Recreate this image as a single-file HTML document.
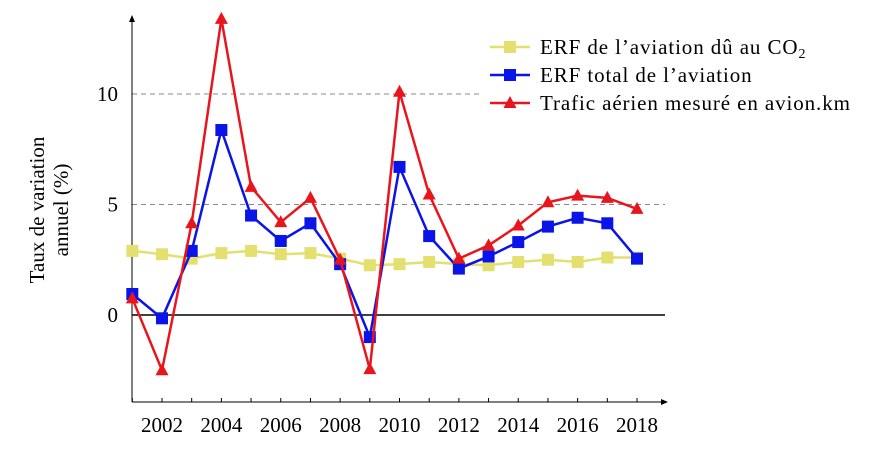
<!DOCTYPE html>
<html><head><meta charset="utf-8"><style>
body{margin:0;background:#fff;}
svg{display:block;font-family:"Liberation Serif",serif;}
</style></head><body>
<svg id="chart" width="888" height="450"></svg>
<script>
const years=[2001,2002,2003,2004,2005,2006,2007,2008,2009,2010,2011,2012,2013,2014,2015,2016,2017,2018];
const co2Values=[2.9,2.75,2.55,2.8,2.9,2.75,2.8,2.55,2.25,2.3,2.4,2.3,2.25,2.4,2.5,2.4,2.6,2.6];
const totalValues=[0.95,-0.15,2.9,8.37,4.5,3.35,4.15,2.3,-1.0,6.7,3.57,2.1,2.65,3.3,4.0,4.4,4.15,2.55];
const trafficValues=[0.75,-2.5,4.15,13.4,5.8,4.2,5.3,2.5,-2.45,10.1,5.45,2.55,3.15,4.05,5.1,5.4,5.3,4.8];
const xTicks=[2002,2004,2006,2008,2010,2012,2014,2016,2018];
const yTicks=[0,5,10];
const svg=document.getElementById('chart');
const NS='http://www.w3.org/2000/svg';
const x=v=>162+(v-2002)*(475/16);
const y=v=>315-v*22.1;
function el(t,a,p){const e=document.createElementNS(NS,t);for(const k in a)e.setAttribute(k,a[k]);(p||svg).appendChild(e);return e;}
yTicks.forEach(t=>{
  const l=el('line',{x1:132,x2:665,y1:y(t),y2:y(t),stroke:t===0?'#000':'#888','stroke-width':t===0?1.5:1,'stroke-dasharray':t===0?'':'5,4'});
  
  
  const tx=el('text',{x:118,y:y(t)+7,'font-size':21,'text-anchor':'end'});tx.textContent=t;
  
  
});
const ya=el('line',{x1:132,x2:132,y1:402,y2:20,stroke:'#000','stroke-width':1});


el('path',{d:'M129,22 L132,15 L135,22 Z',fill:'#000'});
const xa=el('line',{x1:132,x2:663,y1:402,y2:402,stroke:'#000','stroke-width':1});


el('path',{d:'M661,399 L668,402 L661,405 Z',fill:'#000'});
years.forEach(v=>{el('line',{x1:x(v),x2:x(v),y1:398,y2:402,stroke:'#000'});});
xTicks.forEach(v=>{
  const t=el('text',{x:x(v),y:432,'font-size':21,'text-anchor':'middle'});t.textContent=v;
  
  
});
const g=el('g',{transform:'translate(52,210) rotate(-90)'});


const t1=el('text',{x:0,y:-8,'font-size':21,'text-anchor':'middle'},g);t1.textContent='Taux de variation';
const t2=el('text',{x:0,y:16,'font-size':21,'text-anchor':'middle'},g);t2.textContent='annuel (%)';
function series(vals,color,marker,name){
  const pts=vals.map((v,i)=>x(years[i])+','+y(v)).join(' ');
  const pl=el('polyline',{points:pts,fill:'none',stroke:color,'stroke-width':2.5});
  
  
  vals.forEach((v,i)=>{
    const cx=x(years[i]),cy=y(v);let m;
    if(marker==='sq')m=el('rect',{x:cx-6,y:cy-6,width:12,height:12,fill:color});
    else m=el('path',{d:`M${cx},${cy-7} L${cx+6.5},${cy+5} L${cx-6.5},${cy+5} Z`,fill:color});
    
    
  });
}
series(co2Values,'#e3e070','sq','co2-erf');
series(totalValues,'#0a14e8','sq','total-erf');
series(trafficValues,'#e8161c','tri','traffic');
const lg=el('g',{});


el('rect',{x:482,y:28,width:400,height:97,fill:'#fff'},lg);
const items=[['ERF de l\u2019aviation d\u00fb au CO','#e3e070','sq','2'],['ERF total de l\u2019aviation','#0a14e8','sq',''],['Trafic a\u00e9rien mesur\u00e9 en avion.km','#e8161c','tri','']];
items.forEach((it,i)=>{
  const cy=47+i*28;
  el('line',{x1:490,x2:530,y1:cy,y2:cy,stroke:it[1],'stroke-width':2.5},lg);
  if(it[2]==='sq')el('rect',{x:504,y:cy-6,width:12,height:12,fill:it[1]},lg);
  else el('path',{d:`M510,${cy-7} L516.5,${cy+5} L503.5,${cy+5} Z`,fill:it[1]},lg);
  const t=el('text',{x:540,y:cy+7,'font-size':21,'letter-spacing':'0.9'},lg);t.textContent=it[0];
  if(it[3]){const s=el('tspan',{'font-size':14,dy:4},t);s.textContent=it[3];}
  
  
});
</script>
</body></html>
